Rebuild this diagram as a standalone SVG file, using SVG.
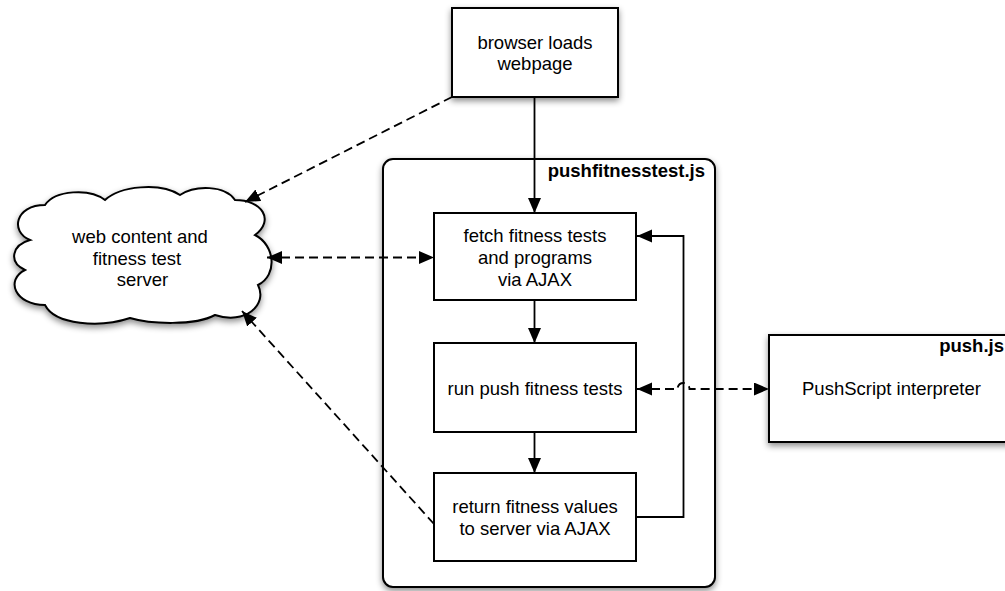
<svg xmlns="http://www.w3.org/2000/svg" width="1005" height="591" viewBox="0 0 1005 591">
  <style>
    .box { fill: #fff; stroke: #000; stroke-width: 2; }
    .t { font-family: "Liberation Sans", Arial, Helvetica, sans-serif; font-size: 18.5px; fill: #000; }
    .c { text-anchor: middle; }
    .b { font-weight: bold; text-anchor: end; }
    .ln { fill: none; stroke: #000; stroke-width: 1.8; }
    .dash { stroke-dasharray: 9 5; }
  </style>
  <defs>
    <filter id="shadow" x="-20%" y="-20%" width="140%" height="140%">
      <feDropShadow dx="0" dy="3" stdDeviation="3" flood-color="#000" flood-opacity="0.45"/>
    </filter>
    <marker id="arr" markerUnits="userSpaceOnUse" markerWidth="16" markerHeight="14" refX="15" refY="6.5" orient="auto-start-reverse" viewBox="0 0 16 14">
      <path d="M0,0 L15,6.5 L0,13 Z" fill="#000"/>
    </marker>
  </defs>
  <rect width="1005" height="591" fill="#fff"/>

  <g id="container">
    <rect class="box" x="383" y="159" width="332" height="428" rx="10" filter="url(#shadow)"/>
    <text class="t b" x="705" y="177">pushfitnesstest.js</text>
  </g>

  <g id="cloud">
    <path class="box" filter="url(#shadow)" d="M30,240 C10,232 15,205 45,205 C55,190 90,188 105,200 C120,186 160,182 180,195 C195,185 225,185 235,200 C262,200 275,220 255,235 C275,245 278,275 258,285 C268,305 245,325 215,315 C195,326 150,324 130,318 C100,328 55,325 45,305 C15,305 5,280 25,270 C8,262 12,245 30,240 Z"/>
    <text class="t c" x="140" y="243">web content and</text>
    <text class="t c" x="137" y="264.5">fitness test</text>
    <text class="t c" x="142.5" y="286">server</text>
  </g>

  <g id="browser">
    <rect class="box" x="452" y="8" width="166" height="89" filter="url(#shadow)"/>
    <text class="t c" x="535" y="48.5">browser loads</text>
    <text class="t c" x="535" y="70">webpage</text>
  </g>

  <g id="fetch">
    <rect class="box" x="434" y="213" width="202" height="87"/>
    <text class="t c" x="535" y="241.5">fetch fitness tests</text>
    <text class="t c" x="535" y="263.5">and programs</text>
    <text class="t c" x="535" y="285.5">via AJAX</text>
  </g>

  <g id="run">
    <rect class="box" x="434" y="343" width="202" height="89"/>
    <text class="t c" x="535" y="395">run push fitness tests</text>
  </g>

  <g id="return">
    <rect class="box" x="434" y="473" width="202" height="88"/>
    <text class="t c" x="535" y="513">return fitness values</text>
    <text class="t c" x="535" y="535">to server via AJAX</text>
  </g>

  <g id="pushjs">
    <rect class="box" x="769" y="335" width="250" height="107" filter="url(#shadow)"/>
    <text class="t b" x="1004" y="352">push.js</text>
    <text class="t" x="802" y="395">PushScript interpreter</text>
  </g>

  <g id="connectors">
    <path class="ln" d="M534.5,97 L534.5,213" marker-end="url(#arr)"/>
    <path class="ln dash" d="M452,97 L245,202" marker-end="url(#arr)"/>
    <path class="ln dash" d="M267,257.5 L434,257.5" marker-start="url(#arr)" marker-end="url(#arr)"/>
    <path class="ln" d="M534.5,300 L534.5,343" marker-end="url(#arr)"/>
    <path class="ln" d="M534.5,432 L534.5,473" marker-end="url(#arr)"/>
    <path class="ln" d="M636,517 L683.5,517 L683.5,236 L637,236" marker-end="url(#arr)"/>
    <path class="ln dash" d="M434,524 L242,311" marker-end="url(#arr)"/>
    <path class="ln dash" d="M637,389 L677.5,389 A6,6 0 0 1 689.5,389 L769,389" marker-start="url(#arr)" marker-end="url(#arr)"/>
  </g>
</svg>
